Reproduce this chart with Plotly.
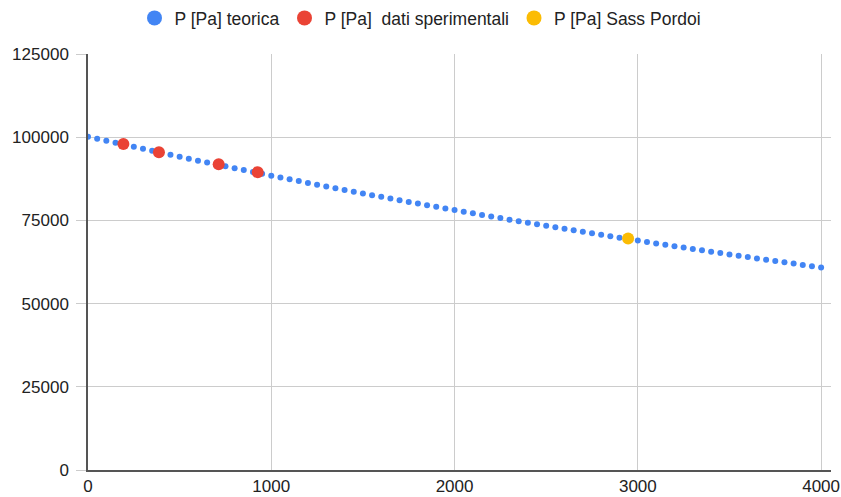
import plotly.graph_objects as go

# Theoretical pressure, every 50 m from 0 to 4000 m
quota_teorica = list(range(0, 4001, 50))
p_teorica = [
    100170, 99548, 98931, 98317, 97706, 97100, 96497, 95898, 95303, 94712,
    94124, 93540, 92959, 92382, 91809, 91239, 90673, 90110, 89551, 88995,
    88442, 87894, 87348, 86806, 86267, 85732, 85200, 84671, 84145, 83623,
    83104, 82588, 82076, 81566, 81060, 80557, 80057, 79560, 79066, 78576,
    78088, 77603, 77122, 76643, 76167, 75695, 75225, 74758, 74294, 73833,
    73375, 72919, 72467, 72017, 71570, 71126, 70684, 70245, 69809, 69376,
    68946, 68518, 68092, 67670, 67250, 66832, 66418, 66005, 65596, 65189,
    64784, 64382, 63982, 63585, 63191, 62798, 62409, 62021, 61636, 61254,
    60874,
]

quota_sperimentali = [193, 387, 713, 926]
p_sperimentali = [97990, 95500, 91900, 89500]

quota_pordoi = [2947]
p_pordoi = [69570]

x_ticks = [0, 1000, 2000, 3000, 4000]
y_ticks = [0, 25000, 50000, 75000, 100000, 125000]

series = [
    ("P [Pa] teorica", quota_teorica, p_teorica, "#4285F4", 6),
    ("P [Pa]  dati sperimentali", quota_sperimentali, p_sperimentali, "#EA4335", 12),
    ("P [Pa] Sass Pordoi", quota_pordoi, p_pordoi, "#FBBC04", 12),
]

fig = go.Figure()
for name, xs, ys, col, sz in series:
    fig.add_trace(go.Scatter(
        x=xs, y=ys, mode="markers", name=name, showlegend=False,
        marker=dict(color=col, size=sz),
    ))
# legend entries (larger symbols, as in the reference legend)
for name, xs, ys, col, sz in series:
    fig.add_trace(go.Scatter(
        x=[None], y=[None], mode="markers", name=name, showlegend=True,
        marker=dict(color=col, size=15),
    ))

font = "Liberation Sans, Arial, sans-serif"
fig.update_layout(
    width=841, height=497,
    margin=dict(l=88, r=10, t=54, b=27, pad=0, autoexpand=False),
    plot_bgcolor="white", paper_bgcolor="white",
    font=dict(family=font, size=17, color="#222222"),
    showlegend=True,
    legend=dict(orientation="h", x=0.5, xanchor="center", xref="container",
                y=1 - 18 / 497, yanchor="middle", yref="container",
                itemsizing="trace", traceorder="normal",
                font=dict(family=font, size=17.5, color="#222222")),
    xaxis=dict(
        range=[0, 4054], tickvals=x_ticks, ticktext=[str(v) for v in x_ticks],
        showgrid=True, gridcolor="#cccccc", gridwidth=1,
        showline=True, linecolor="#555555", linewidth=1.5,
        zeroline=False, ticks="", tickfont=dict(size=17),
    ),
    yaxis=dict(
        range=[0, 125000], tickvals=y_ticks, ticktext=[str(v) for v in y_ticks],
        showgrid=True, gridcolor="#cccccc", gridwidth=1,
        showline=True, linecolor="#555555", linewidth=1.5,
        zeroline=False, ticks="outside", ticklen=10, tickcolor="#cccccc",
        tickwidth=1, ticklabelstandoff=4, tickfont=dict(size=17),
    ),
)

fig.write_html("out.html")
